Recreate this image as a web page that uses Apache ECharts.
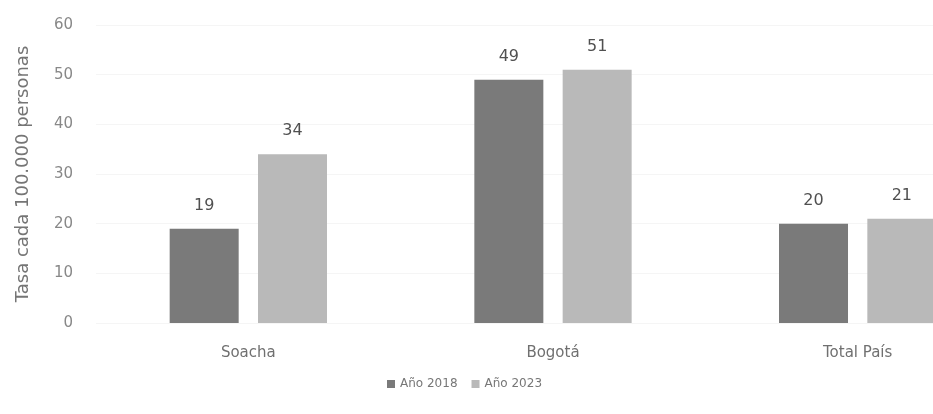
<!DOCTYPE html>
<html>
<head>
<meta charset="utf-8">
<script src="https://cdn.jsdelivr.net/npm/echarts@6/dist/echarts.min.js"></script>
<style>
  html, body { margin: 0; padding: 0; background: #fff; overflow: hidden; }
  /* the original chart is cut off on the right, so the canvas is wider than the window */
  #main { width: 1010px; height: 414px; }
</style>
</head>
<body>
<div id="main"></div>
<script>
const categories = ['Soacha', 'Bogotá', 'Total País'];
const seriesNames = ['Año 2018', 'Año 2023'];
const values2018 = [19, 49, 20];
const values2023 = [34, 51, 21];
const yTicks = { min: 0, max: 60, interval: 10 };

const chart = echarts.init(document.getElementById('main'));

const labelStyle = {
  show: true,
  position: 'top',
  distance: 15,
  color: '#505050',
  fontSize: 16
};

chart.setOption({
  backgroundColor: '#fff',
  textStyle: { fontFamily: 'DejaVu Sans' },
  grid: { left: 96, top: 25, right: 0, height: 298 },
  legend: {
    data: seriesNames,
    top: 373,
    left: 382,
    itemWidth: 8,
    itemHeight: 8,
    itemGap: 14,
    icon: 'rect',
    textStyle: { color: '#777', fontSize: 12 }
  },
  xAxis: {
    type: 'category',
    data: categories,
    axisLine: { show: false },
    axisTick: { show: false },
    axisLabel: { color: '#707070', fontSize: 15, margin: 23 }
  },
  yAxis: {
    type: 'value',
    min: yTicks.min,
    max: yTicks.max,
    interval: yTicks.interval,
    name: 'Tasa cada 100.000 personas',
    nameLocation: 'middle',
    nameGap: 64,
    nameTextStyle: { color: '#757575', fontSize: 18, padding: [0, 0, 0, 0] },
    axisLabel: { color: '#888', fontSize: 15, margin: 23 },
    splitLine: { lineStyle: { color: '#f5f5f5' } }
  },
  series: [
    {
      name: seriesNames[0],
      type: 'bar',
      data: values2018,
      barWidth: 69,
      barGap: '28%',
      itemStyle: { color: '#7a7a7a' },
      label: labelStyle
    },
    {
      name: seriesNames[1],
      type: 'bar',
      data: values2023,
      barWidth: 69,
      itemStyle: { color: '#b9b9b9' },
      label: labelStyle
    }
  ]
});
</script>
</body>
</html>
